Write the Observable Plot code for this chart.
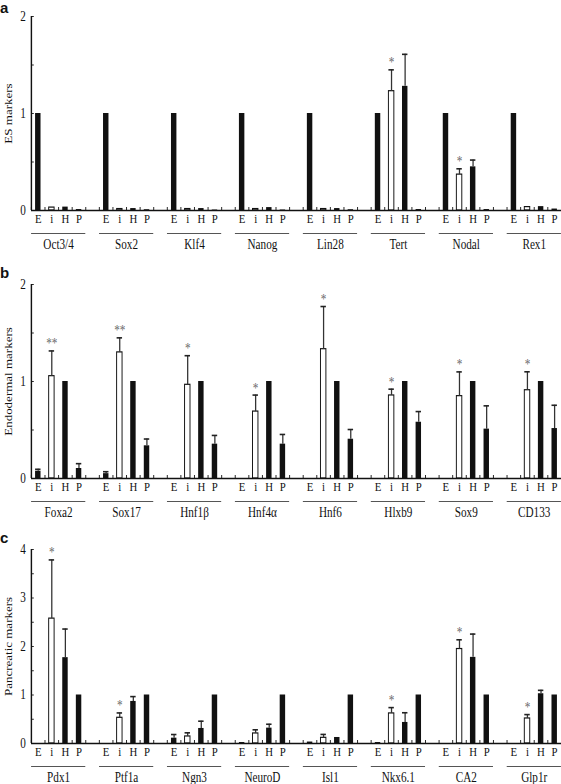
<!DOCTYPE html>
<html><head><meta charset="utf-8">
<script src="https://cdn.jsdelivr.net/npm/d3@7"></script>
<script src="https://cdn.jsdelivr.net/npm/@observablehq/plot@0.6"></script>
<style>
body{margin:0;background:#fff;overflow:hidden}
#root{position:relative;width:561px;height:784px;overflow:hidden}
.panel{position:absolute;left:0}
.panel svg text{font-family:'Liberation Serif','Times New Roman',serif}
.letter{position:absolute;left:0;font:bold 15px 'Liberation Sans',Arial,sans-serif;line-height:1;color:#111}
</style></head><body><div id="root"></div>
<script>
const letters = ["E", "i", "H", "P"];

const genesA = ["Oct3/4", "Sox2", "Klf4", "Nanog", "Lin28", "Tert", "Nodal", "Rex1"];
const meanA = [
  [1, 0.03, 0.035, 0.01],
  [1, 0.015, 0.02, 0.008],
  [1, 0.015, 0.02, 0.005],
  [1, 0.015, 0.03, 0.005],
  [1, 0.015, 0.02, 0.008],
  [1, 1.23, 1.28, 0.01],
  [1, 0.37, 0.45, 0.01],
  [1, 0.035, 0.04, 0.015]
];
const errA = [
  [0, 0, 0, 0], [0, 0, 0, 0], [0, 0, 0, 0], [0, 0, 0, 0],
  [0, 0, 0, 0], [0, 0.22, 0.33, 0], [0, 0.06, 0.07, 0], [0, 0, 0, 0]
];
const starA = ["", "", "", "", "", "*", "*", ""];

const genesB = ["Foxa2", "Sox17", "Hnf1β", "Hnf4α", "Hnf6", "Hlxb9", "Sox9", "CD133"];
const meanB = [
  [0.075, 1.055, 1, 0.103],
  [0.05, 1.30, 1, 0.337],
  [0, 0.966, 1, 0.354],
  [0, 0.69, 1, 0.354],
  [0, 1.333, 1, 0.405],
  [0, 0.856, 1, 0.58],
  [0, 0.849, 1, 0.509],
  [0, 0.91, 1, 0.515]
];
const errB = [
  [0.02, 0.26, 0, 0.05],
  [0.02, 0.15, 0, 0.07],
  [0, 0.30, 0, 0.09],
  [0, 0.17, 0, 0.10],
  [0, 0.44, 0, 0.10],
  [0, 0.065, 0, 0.11],
  [0, 0.25, 0, 0.24],
  [0, 0.19, 0, 0.24]
];
const starB = ["**", "**", "*", "*", "*", "*", "*", "*"];

const genesC = ["Pdx1", "Ptf1a", "Ngn3", "NeuroD", "Isl1", "Nkx6.1", "CA2", "Glp1r"];
const meanC = [
  [0, 2.575, 1.77, 1],
  [0, 0.53, 0.867, 1],
  [0.11, 0.145, 0.31, 1],
  [0.02, 0.207, 0.317, 1],
  [0.03, 0.117, 0.124, 1],
  [0.02, 0.62, 0.434, 1],
  [0, 1.948, 1.776, 1],
  [0, 0.516, 1.026, 1]
];
const errC = [
  [0, 1.21, 0.59, 0],
  [0, 0.10, 0.10, 0],
  [0.075, 0.075, 0.15, 0],
  [0, 0.075, 0.08, 0],
  [0, 0.07, 0, 0],
  [0, 0.12, 0.2, 0],
  [0, 0.19, 0.48, 0],
  [0, 0.08, 0.07, 0]
];
const starC = ["*", "*", "", "", "", "*", "*", "*"];

// The figure is horizontally condensed: draw at a wider internal width, then squeeze.
const S = 0.8;
const W = 561, ML = 31, MT = 16, PH = 194, MB = 44;
const IW = W / S, IML = ML / S;
const serif = "'Liberation Serif','Times New Roman',serif";

function makePanel(genes, mean, err, stars, ymax, ylabel) {
  const keys = [], rows = [];
  genes.forEach((g, gi) => {
    letters.forEach((l, li) => {
      const k = g + "|" + l;
      keys.push(k);
      rows.push({key: k, gene: g, letter: l, v: mean[gi][li], e: err[gi][li], star: li === 1 ? stars[gi] : ""});
    });
    if (gi < genes.length - 1) keys.push(g + "|_");
  });
  const STEP = (IW - IML) / keys.length;
  const errRows = rows.filter(d => d.e > 0);
  const starRows = rows.filter(d => d.star);
  const halfTicks = d3.range(0, ymax + 0.001, 0.5);
  const intTicks = d3.range(0, ymax + 0.001, 1);
  const H = MT + PH + MB;
  const svg = Plot.plot({
    width: IW, height: H,
    marginLeft: IML, marginRight: 0, marginTop: MT, marginBottom: MB,
    style: {fontFamily: serif, fontSize: "12px", background: "transparent", color: "#111", overflow: "visible"},
    x: {domain: keys, paddingInner: 0.6, paddingOuter: 0.3, align: 0.5},
    y: {domain: [0, ymax]},
    marks: [
      Plot.barY(rows.filter(d => d.v > 0), {
        x: "key", y: "v",
        fill: d => d.letter === "i" ? "#fff" : "#111",
        stroke: d => d.letter === "i" ? "#111" : "none",
        strokeWidth: 1.2
      }),
      Plot.ruleX(errRows, {x: "key", y1: "v", y2: d => d.v + d.e, stroke: "#333", strokeWidth: 1.6}),
      Plot.tickY(errRows, {x: "key", y: d => d.v + d.e, stroke: "#222", strokeWidth: 1.6}),
      Plot.text(starRows, {x: "key", y: d => d.v + d.e, text: "star", dy: -7, fontSize: 14, fill: "#666"}),
      Plot.ruleY([0], {stroke: "#111", strokeWidth: 1.5}),
      Plot.ruleX([keys[0]], {dx: -STEP / 2, stroke: "#111", strokeWidth: 1.8}),
      Plot.axisY({ticks: intTicks, tickSize: 0, tickPadding: 7, fontSize: 14, label: null, tickFormat: d => String(d)}),
      Plot.axisY({ticks: halfTicks, tickSize: 3.5, dx: 3.5, tickFormat: () => "", label: null, stroke: "#111"}),
      Plot.axisX({tickSize: 0, tickPadding: 3, fontSize: 13.5, label: null,
        tickFormat: k => { const l = k.split("|")[1]; return l === "_" ? "" : l; }}),
      Plot.axisX({tickSize: 3, dy: -3, dx: -STEP / 2, tickFormat: () => "", label: null, stroke: "#111"}),
      Plot.ruleY(genes, {y: () => 0, x1: g => g + "|E", x2: g => g + "|P", dy: 23, insetLeft: -5, insetRight: -5, stroke: "#555", strokeWidth: 1.2}),
      Plot.text(genes, {x: g => g + "|i", y: () => 0, text: d => d, dx: STEP / 2, dy: 34, fontSize: 14, fill: "#111"}),
      Plot.text([ylabel], {frameAnchor: "left", textAnchor: "middle", rotate: -90, dx: -IML + 10, text: d => d, fontSize: 13, fill: "#111"})
    ]
  });
  svg.setAttribute("viewBox", `0 0 ${IW} ${H}`);
  svg.setAttribute("preserveAspectRatio", "none");
  svg.setAttribute("width", W);
  svg.setAttribute("height", H);
  svg.style.width = W + "px";
  svg.style.height = H + "px";
  svg.style.maxWidth = "none";
  return svg;
}

const root = document.getElementById("root");
const panels = [
  {top: 0, letter: "a", ltop: 0, el: makePanel(genesA, meanA, errA, starA, 2, "ES markers")},
  {top: 268, letter: "b", ltop: 265, el: makePanel(genesB, meanB, errB, starB, 2, "Endodermal markers")},
  {top: 533, letter: "c", ltop: 530, el: makePanel(genesC, meanC, errC, starC, 4, "Pancreatic markers")}
];
for (const p of panels) {
  const d = document.createElement("div");
  d.className = "panel";
  d.style.top = p.top + "px";
  d.appendChild(p.el);
  root.appendChild(d);
  const l = document.createElement("div");
  l.className = "letter";
  l.style.top = p.ltop + "px";
  l.textContent = p.letter;
  root.appendChild(l);
}
</script>
</body></html>
